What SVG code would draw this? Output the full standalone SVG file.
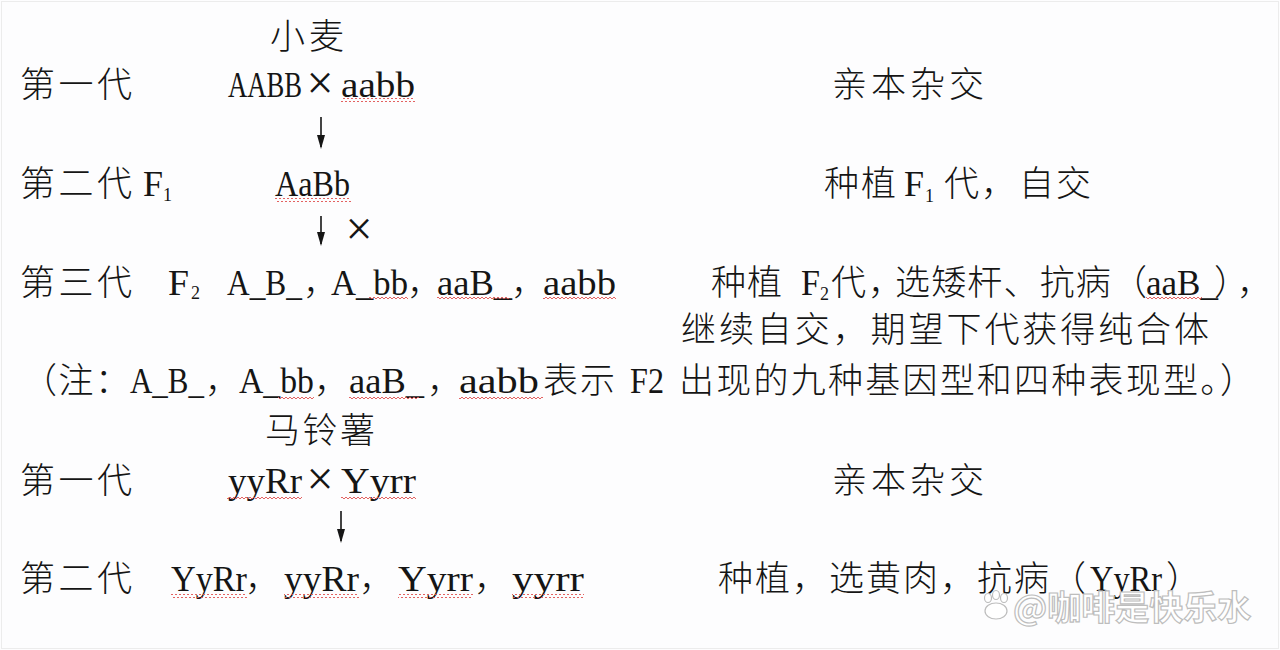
<svg xmlns="http://www.w3.org/2000/svg" width="1280" height="650" viewBox="0 0 1280 650">
<style>
.cn{font-family:"Noto Sans CJK SC","Noto Sans",sans-serif;font-size:35px;font-weight:300;fill:#151515}
.la{font-family:"Liberation Serif","DejaVu Serif",serif;font-size:36px;fill:#151515}
.sub{font-family:"Liberation Serif","DejaVu Serif",serif;font-size:18px;fill:#151515}
.x{font-family:"Liberation Serif","DejaVu Serif",serif;font-size:48px;fill:#151515}
.wm{font-family:"Noto Sans CJK SC",sans-serif;font-size:34px;font-weight:bold;fill:#ffffff;stroke:#bdbdbd;stroke-width:1.2}
.arr{stroke:#151515;stroke-width:1.6;fill:none}
</style>
<defs>
<pattern id="wave" x="0" y="0" width="4" height="4" patternUnits="userSpaceOnUse">
<path d="M0 3 L2 1 L4 3" stroke="#e0504f" stroke-width="0.9" fill="none"/>
</pattern>
<marker id="ah2" markerWidth="14" markerHeight="9" refX="12" refY="4.5" orient="auto" markerUnits="userSpaceOnUse" viewBox="0 0 14 9">
<path d="M0 0.5 L14 4.5 L0 8.5 Z" fill="#151515"/>
</marker>
</defs>
<rect x="0" y="0" width="1280" height="650" fill="#fdfdfe"/>
<rect x="1.5" y="1.5" width="1277" height="647" fill="none" stroke="#ececec" stroke-width="1"/>

<g id="wheat-title"><text class="cn" x="270" y="49" textLength="74">小麦</text></g>

<g id="wheat-gen1">
<text class="cn" x="20" y="97" textLength="112">第一代</text>
<text class="la" x="228" y="97" textLength="74" lengthAdjust="spacingAndGlyphs">AABB</text>
<text class="x" x="320" y="99" text-anchor="middle">×</text>
<text class="la" x="341" y="97" textLength="74" lengthAdjust="spacingAndGlyphs">aabb</text>
<rect x="341" y="98" width="74" height="4" fill="url(#wave)"/>
<text class="cn" x="832" y="97" textLength="152">亲本杂交</text>
</g>

<g id="wheat-gen2">
<text class="cn" x="20" y="196" textLength="112">第二代</text>
<text class="la" x="143" y="196" font-size="34">F</text>
<text class="sub" x="163" y="201">1</text>
<text class="la" x="275" y="196" textLength="75" lengthAdjust="spacingAndGlyphs">AaBb</text>
<rect x="275" y="198" width="76" height="4" fill="url(#wave)"/>
<text class="cn" x="824" y="196" textLength="72">种植</text>
<text class="la" x="904" y="196" font-size="34">F</text>
<text class="sub" x="925" y="202">1</text>
<text class="cn" x="944" y="196" textLength="72">代，</text>
<text class="cn" x="1019" y="196" textLength="72">自交</text>
</g>

<g id="wheat-gen3">
<text class="cn" x="20" y="295" textLength="112">第三代</text>
<text class="la" x="168" y="295" textLength="21" lengthAdjust="spacingAndGlyphs">F</text>
<text class="sub" x="191" y="299">2</text>
<text class="la" x="227" y="295" textLength="75" lengthAdjust="spacingAndGlyphs">A_B_</text>
<text class="cn" x="303" y="295">，</text>
<text class="la" x="331" y="295" textLength="77" lengthAdjust="spacingAndGlyphs">A_bb</text>
<rect x="369" y="297" width="39" height="4" fill="url(#wave)"/>
<text class="cn" x="407" y="295">，</text>
<text class="la" x="437" y="295" textLength="75" lengthAdjust="spacingAndGlyphs">aaB_</text>
<rect x="437" y="297" width="72" height="4" fill="url(#wave)"/>
<text class="cn" x="511" y="295">，</text>
<text class="la" x="543" y="295" textLength="73" lengthAdjust="spacingAndGlyphs">aabb</text>
<rect x="543" y="297" width="73" height="4" fill="url(#wave)"/>
<text class="cn" x="711" y="295" textLength="71">种植</text>
<text class="la" x="801" y="295" textLength="19" lengthAdjust="spacingAndGlyphs">F</text>
<text class="sub" x="820" y="300">2</text>
<text class="cn" x="831" y="295" textLength="72">代，</text>
<text class="cn" x="895" y="295" textLength="252">选矮杆、抗病（</text>
<text class="la" x="1146" y="295" textLength="72" lengthAdjust="spacingAndGlyphs">aaB_</text>
<rect x="1146" y="297" width="56" height="4" fill="url(#wave)"/>
<text class="cn" x="1214" y="295">）</text>
<text class="cn" x="1237" y="295">，</text>
<text class="cn" x="681" y="342" textLength="528">继续自交，期望下代获得纯合体</text>
</g>

<g id="note">
<text class="cn" x="22" y="393" textLength="108">（注：</text>
<text class="la" x="130" y="393" textLength="74" lengthAdjust="spacingAndGlyphs">A_B_</text>
<text class="cn" x="205" y="393">，</text>
<text class="la" x="239" y="393" textLength="75" lengthAdjust="spacingAndGlyphs">A_bb</text>
<rect x="278" y="396" width="36" height="4" fill="url(#wave)"/>
<text class="cn" x="314" y="393">，</text>
<text class="la" x="349" y="393" textLength="75" lengthAdjust="spacingAndGlyphs">aaB_</text>
<rect x="349" y="396" width="70" height="4" fill="url(#wave)"/>
<text class="cn" x="427" y="393">，</text>
<text class="la" x="459" y="393" textLength="80" lengthAdjust="spacingAndGlyphs">aabb</text>
<rect x="459" y="396" width="84" height="4" fill="url(#wave)"/>
<text class="cn" x="543" y="393" textLength="72">表示</text>
<text class="la" x="630" y="393" textLength="34" lengthAdjust="spacingAndGlyphs">F2</text>
<text class="cn" x="679" y="393" textLength="576">出现的九种基因型和四种表现型。）</text>
</g>

<g id="potato-title"><text class="cn" x="265" y="443" textLength="110">马铃薯</text></g>

<g id="potato-gen1">
<text class="cn" x="20" y="493" textLength="112">第一代</text>
<text class="la" x="228" y="493" textLength="74" lengthAdjust="spacingAndGlyphs">yyRr</text>
<rect x="227" y="496" width="75" height="4" fill="url(#wave)"/>
<text class="x" x="320" y="495" text-anchor="middle">×</text>
<text class="la" x="341" y="493" textLength="75" lengthAdjust="spacingAndGlyphs">Yyrr</text>
<rect x="341" y="496" width="75" height="4" fill="url(#wave)"/>
<text class="cn" x="832" y="493" textLength="152">亲本杂交</text>
</g>

<g id="potato-gen2">
<text class="cn" x="20" y="591" textLength="112">第二代</text>
<text class="la" x="171" y="591" textLength="76" lengthAdjust="spacingAndGlyphs">YyRr</text>
<rect x="171" y="594" width="76" height="4" fill="url(#wave)"/>
<text class="cn" x="245" y="591">，</text>
<text class="la" x="284" y="591" textLength="75" lengthAdjust="spacingAndGlyphs">yyRr</text>
<rect x="284" y="594" width="75" height="4" fill="url(#wave)"/>
<text class="cn" x="359" y="591">，</text>
<text class="la" x="398" y="591" textLength="75" lengthAdjust="spacingAndGlyphs">Yyrr</text>
<rect x="398" y="594" width="75" height="4" fill="url(#wave)"/>
<text class="cn" x="474" y="591">，</text>
<text class="la" x="512" y="591" textLength="72" lengthAdjust="spacingAndGlyphs">yyrr</text>
<rect x="512" y="594" width="72" height="4" fill="url(#wave)"/>
<text class="cn" x="718" y="591" textLength="368">种植，选黄肉，抗病（</text>
<text class="la" x="1090" y="591" textLength="72" lengthAdjust="spacingAndGlyphs">YyRr</text>
<text class="cn" x="1166" y="591">）</text>
</g>

<g id="connectors">
<line class="arr" x1="321" y1="117" x2="321" y2="147" marker-end="url(#ah2)"/>
<line class="arr" x1="321" y1="216" x2="321" y2="244" marker-end="url(#ah2)"/>
<text class="x" x="359" y="245" text-anchor="middle">×</text>
<line class="arr" x1="341" y1="511" x2="341" y2="541" marker-end="url(#ah2)"/>
</g>

<g id="watermark">
<g fill="#ffffff" stroke="#bdbdbd" stroke-width="1.2">
<ellipse cx="996" cy="611" rx="11" ry="8"/>
<ellipse cx="988" cy="598" rx="3.5" ry="4.5"/>
<ellipse cx="996" cy="595" rx="3.5" ry="4.5"/>
<ellipse cx="1004" cy="598" rx="3.5" ry="4.5"/>
</g>
<text class="wm" x="1013" y="620">@咖啡是快乐水</text>
</g>
</svg>
